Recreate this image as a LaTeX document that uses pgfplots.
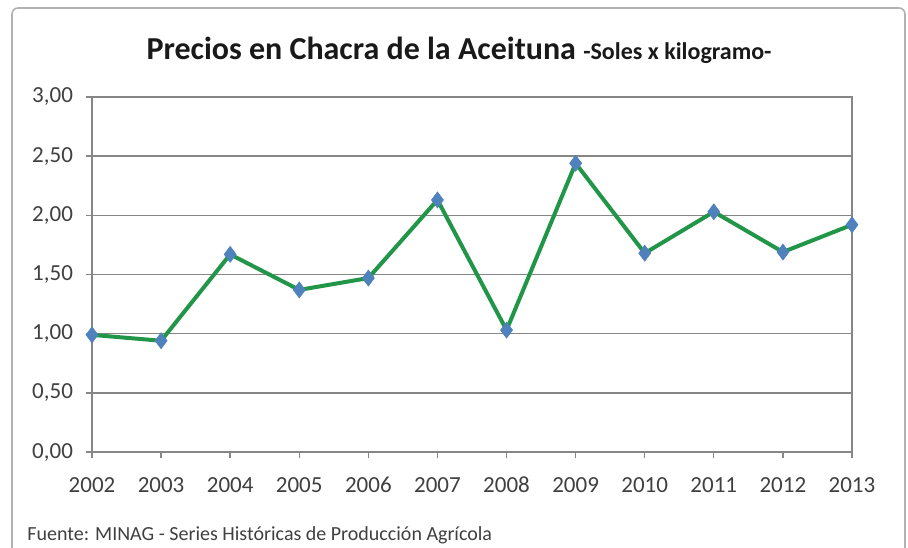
\documentclass[border=0pt]{standalone}
\usepackage{pgfplots}
\pgfplotsset{compat=1.18}
\usepackage{fontspec}
\setmainfont{Carlito}

\definecolor{linegreen}{RGB}{34,150,72}
\definecolor{markblue}{RGB}{79,129,189}
\definecolor{axgray}{RGB}{134,134,134}
\definecolor{txtgray}{RGB}{64,64,64}

\begin{document}
\begin{tikzpicture}
  % page = 908x547 px at 0.5pt per px
  \clip (-46pt,-47.5pt) rectangle (408pt,226pt);
  \fill[white] (-46pt,-47.5pt) rectangle (408pt,226pt);
  \draw[gray!60, line width=0.8pt, rounded corners=3pt] (-40pt,-60pt) rectangle (406.5pt,222pt);
  \begin{axis}[
      at={(0,0)}, anchor=south west,
      scale only axis,
      width=380pt, height=177.5pt,
      xmin=2002, xmax=2013,
      ymin=0, ymax=3,
      xtick={2002,...,2013},
      ytick={0,0.5,...,3},
      axis line style={axgray, line width=0.8pt},
      tick style={axgray, line width=0.7pt},
      tick align=outside,
      major tick length=3pt,
      xtick pos=bottom, ytick pos=left,
      ymajorgrids,
      grid style={axgray, line width=0.8pt},
      tick label style={font=\fontsize{11.5}{13}\selectfont, text=txtgray},
      /pgf/number format/assume math mode=true,
      x tick label style={/pgf/number format/1000 sep={}, yshift=-6pt},
      y tick label style={xshift=-3pt, /pgf/number format/.cd, fixed, fixed zerofill, precision=2, use comma},
      clip=false,
    ]
    \addplot[linegreen, line width=2pt, mark=diamond*,
      mark size=4pt, mark options={markblue, fill=markblue, line width=0.3pt}]
      coordinates {
        (2002,0.99) (2003,0.94) (2004,1.67) (2005,1.37) (2006,1.47) (2007,2.13)
        (2008,1.03) (2009,2.44) (2010,1.68) (2011,2.03) (2012,1.69) (2013,1.92)
      };
  \end{axis}
  \node[font=\bfseries\fontsize{16}{18}\selectfont, text=black!90] at (183.5pt,201pt)
    {Precios en Chacra de la Aceituna \fontsize{12}{14}\selectfont -Soles x kilogramo-};
  \node[anchor=west, inner sep=0pt, font=\fontsize{10}{12}\selectfont, text=txtgray] at (-32.5pt,-41.5pt)
    {Fuente: MINAG - Series Históricas de Producción Agrícola};
\end{tikzpicture}
\end{document}
